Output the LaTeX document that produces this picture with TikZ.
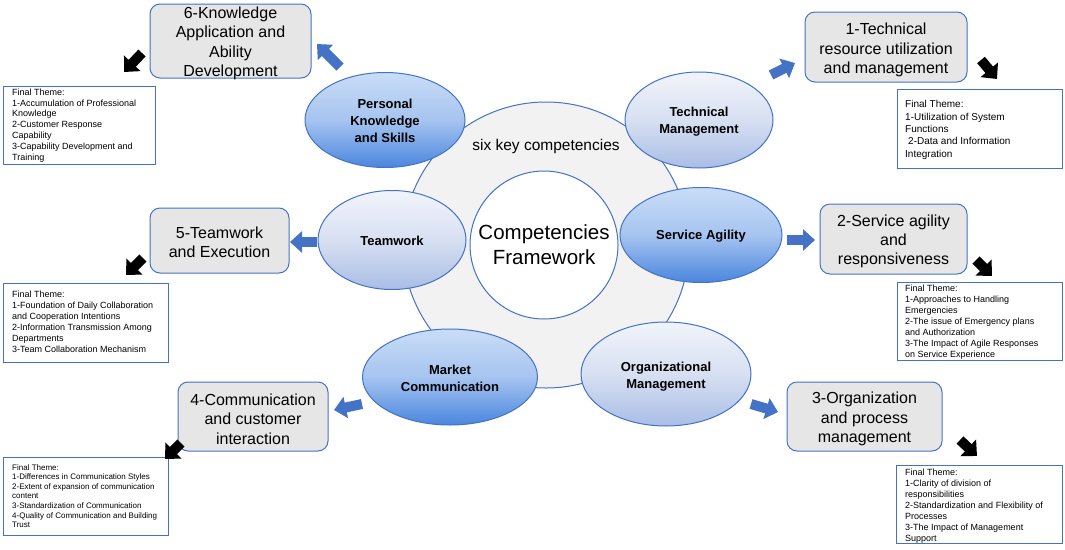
\documentclass[tikz,border=0pt]{standalone}
\usepackage{fontspec}
\setmainfont{Liberation Sans}
\usepackage{tikz}
\usetikzlibrary{arrows.meta,shapes.geometric}
\definecolor{frameBlue}{HTML}{4472C4}
\definecolor{boxGray}{HTML}{E7E6E6}
\definecolor{ringGray}{HTML}{F2F2F2}
\definecolor{deepTop}{HTML}{C9DDF7}
\definecolor{deepMid}{HTML}{A6C4F0}
\definecolor{deepBot}{HTML}{4A86DE}
\definecolor{paleTop}{HTML}{F1F4FA}
\definecolor{paleMid}{HTML}{D7E0F2}
\definecolor{paleBot}{HTML}{A9BDE6}

\begin{document}
\begin{tikzpicture}[x=1pt,y=-1pt,
  comp/.style={ellipse,draw=frameBlue,line width=1pt,inner sep=0pt},
  compdeep/.style={comp,top color=deepTop,bottom color=deepBot,middle color=deepMid},
  comppale/.style={comp,top color=paleTop,bottom color=paleBot,middle color=paleMid},
  comptext/.style={inner sep=0pt,align=center,font=\fontsize{13}{16.7}\selectfont\bfseries},
  result/.style={draw=frameBlue,fill=boxGray,rounded corners=10pt,line width=1pt,inner sep=0pt},
  resulttext/.style={inner sep=0pt,align=center,font=\fontsize{16}{19.3}\selectfont},
  theme/.style={draw=frameBlue,line width=1pt,anchor=north west,inner sep=0pt},
  themetext/.style={anchor=north west,inner sep=0pt,align=left,
    font=\fontsize{9}{11}\selectfont},
  toresult/.style={line width=10pt,frameBlue,-{Triangle[length=12pt,width=21pt]}},
  totheme/.style={line width=10pt,black,-{Triangle[length=12pt,width=22pt]}}]
\def\rRing{143}
\useasboundingbox (0,0) rectangle (1065,549);
\node[circle,draw=frameBlue,line width=1pt,fill=ringGray,minimum size=2*\rRing] (ring) at (546,245) {};
\node[circle,draw=frameBlue,line width=1pt,fill=white,minimum size=148,
  font=\fontsize{20.5}{25}\selectfont,align=center] (core) at (544,245) {Competencies\\Framework};
\node[font=\fontsize{15.5}{18}\selectfont] (six) at (546,146) {six key competencies};

\node[compdeep,minimum width=160,minimum height=95] (pks) at (385,120) {};
\node[comppale,minimum width=148,minimum height=96] (tm) at (699,120) {};
\node[comppale,minimum width=148,minimum height=99] (tw) at (392,240) {};
\node[compdeep,minimum width=162,minimum height=95] (sa) at (701,235) {};
\node[compdeep,minimum width=175,minimum height=96] (mc) at (450,377) {};
\node[comppale,minimum width=170,minimum height=104] (om) at (666,374) {};
\node[comptext] (pkst) at (385,121) {Personal\\Knowledge\\and Skills};
\node[comptext] (tmt) at (699,122) {Technical\\Management};
\node[comptext] (twt) at (392,241) {Teamwork};
\node[comptext] (sat) at (701,236) {Service Agility};
\node[comptext] (mct) at (450,378) {Market\\Communication};
\node[comptext] (omt) at (666,376.5) {Organizational\\Management};

\node[result,minimum width=161,minimum height=74] (k6) at (230.5,41) {};
\node[result,minimum width=162,minimum height=70] (t1) at (886,47) {};
\node[result,minimum width=139,minimum height=65] (e5) at (219.5,240.5) {};
\node[result,minimum width=147,minimum height=70] (s2) at (893.5,239) {};
\node[result,minimum width=150,minimum height=69] (c4) at (253,416.5) {};
\node[result,minimum width=155,minimum height=69] (o3) at (864.5,416.5) {};
\node[resulttext] (k6t) at (230.5,43.5) {6-Knowledge\\Application and\\Ability\\Development};
\node[resulttext] (t1t) at (886,50) {1-Technical\\resource utilization\\and management};
\node[resulttext] (e5t) at (219.5,242.5) {5-Teamwork\\and Execution};
\node[resulttext] (s2t) at (893.5,241.5) {2-Service agility\\and\\responsiveness};
\node[resulttext] (c4t) at (253,419) {4-Communication\\and customer\\interaction};
\node[resulttext] (o3t) at (864.5,419) {3-Organization\\and process\\management};

\node[theme,minimum width=152,minimum height=78] (ft6) at (3,86) {};
\node[theme,minimum width=165,minimum height=79] (ft1) at (897,89) {};
\node[theme,minimum width=165,minimum height=79] (ft5) at (3,283) {};
\node[theme,minimum width=165,minimum height=78] (ft2) at (897,282) {};
\node[theme,minimum width=165,minimum height=78] (ft4) at (3,457) {};
\node[theme,minimum width=166,minimum height=78] (ft3) at (896,465) {};

\node[themetext,font=\fontsize{9}{10.8}\selectfont] (ft6t) at (12,88.5) {Final Theme:\\1-Accumulation of Professional\\Knowledge\\2-Customer Response\\Capability\\3-Capability Development and\\Training};
\node[themetext,font=\fontsize{10}{12.3}\selectfont] (ft1t) at (905,100.4) {Final Theme:\\1-Utilization of System\\Functions\\\hspace{3pt}2-Data and Information\\Integration};
\node[themetext] (ft5t) at (12,290.5) {Final Theme:\\1-Foundation of Daily Collaboration\\and Cooperation Intentions\\2-Information Transmission Among\\Departments\\3-Team Collaboration Mechanism};
\node[themetext] (ft2t) at (905,284.5) {Final Theme:\\1-Approaches to Handling\\Emergencies\\2-The issue of Emergency plans\\and Authorization\\3-The Impact of Agile Responses\\on Service Experience};
\node[themetext,font=\fontsize{8}{9.6}\selectfont] (ft4t) at (12,464) {Final Theme:\\1-Differences in Communication Styles\\2-Extent of expansion of communication\\content\\3-Standardization of Communication\\4-Quality of Communication and Building\\Trust};
\node[themetext] (ft3t) at (905,468.5) {Final Theme:\\1-Clarity of division of\\responsibilities\\2-Standardization and Flexibility of\\Processes\\3-The Impact of Management\\Support};

\coordinate (pks-a) at (340,67);  \coordinate (k6-in) at (317,44);
\coordinate (tm-a) at (771,75);   \coordinate (t1-in) at (795,63);
\coordinate (tw-a) at (317,242);  \coordinate (e5-in) at (290,242);
\coordinate (sa-a) at (787,240);  \coordinate (s2-in) at (815,240);
\coordinate (mc-a) at (362,404);  \coordinate (c4-in) at (334,410);
\coordinate (om-a) at (751,404);  \coordinate (o3-in) at (778,412);
\draw[toresult] (pks-a) -- (k6-in);
\draw[toresult] (tm-a) -- (t1-in);
\draw[toresult] (tw-a) -- (e5-in);
\draw[toresult] (sa-a) -- (s2-in);
\draw[toresult] (mc-a) -- (c4-in);
\draw[toresult] (om-a) -- (o3-in);

\coordinate (k6-a) at (142,53);   \coordinate (ft6-in) at (124,72);
\coordinate (t1-a) at (981,60);   \coordinate (ft1-in) at (997,79);
\coordinate (e5-a) at (143,258);  \coordinate (ft5-in) at (126,275);
\coordinate (s2-a) at (976,260);  \coordinate (ft2-in) at (992,276);
\coordinate (c4-a) at (181,443);  \coordinate (ft4-in) at (165,459);
\coordinate (o3-a) at (960,440);  \coordinate (ft3-in) at (977,456);
\draw[totheme] (k6-a) -- (ft6-in);
\draw[totheme] (t1-a) -- (ft1-in);
\draw[totheme] (e5-a) -- (ft5-in);
\draw[totheme] (s2-a) -- (ft2-in);
\draw[totheme] (c4-a) -- (ft4-in);
\draw[totheme] (o3-a) -- (ft3-in);
\end{tikzpicture}
\end{document}
